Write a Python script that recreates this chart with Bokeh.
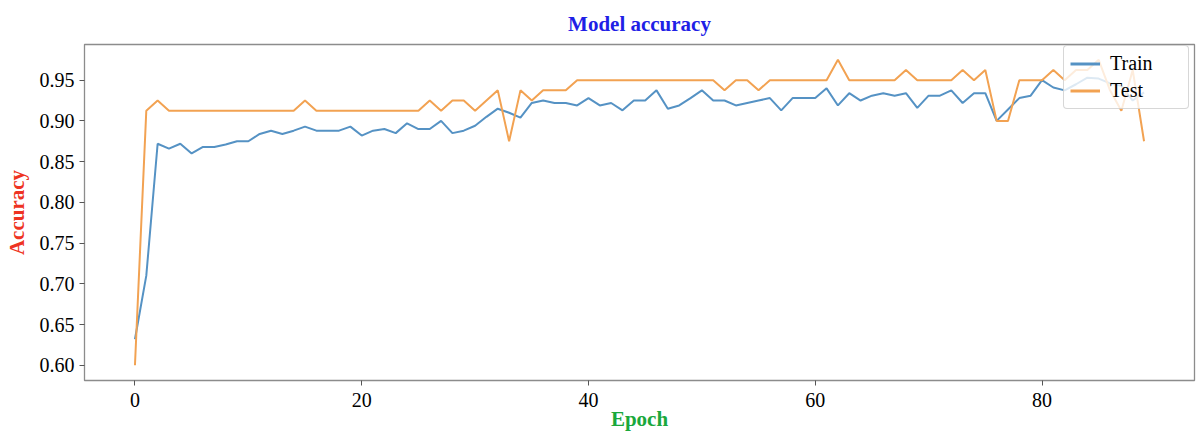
from bokeh.plotting import figure
from bokeh.models import Range1d, FixedTicker, Legend, LegendItem
from bokeh.embed import file_html
from bokeh.resources import INLINE

# Per-epoch accuracy on the training and test sets
epochs = list(range(90))
train_acc = [
    0.632, 0.710, 0.872, 0.866, 0.872, 0.860, 0.868, 0.868, 0.871, 0.875,
    0.875, 0.884, 0.888, 0.884, 0.888, 0.893, 0.888, 0.888, 0.888, 0.893,
    0.882, 0.888, 0.890, 0.885, 0.897, 0.890, 0.890, 0.900, 0.885, 0.888,
    0.894, 0.905, 0.915, 0.910, 0.904, 0.922, 0.925, 0.922, 0.922, 0.919,
    0.928, 0.919, 0.922, 0.913, 0.925, 0.925, 0.9375, 0.915, 0.919, 0.928,
    0.9375, 0.925, 0.925, 0.919, 0.922, 0.925, 0.928, 0.913, 0.928, 0.928,
    0.928, 0.940, 0.919, 0.934, 0.925, 0.931, 0.934, 0.931, 0.934, 0.916,
    0.931, 0.931, 0.9375, 0.922, 0.934, 0.934, 0.900, 0.914, 0.928, 0.931,
    0.950, 0.941, 0.9375, 0.945, 0.953, 0.952, 0.946, 0.943, 0.925, 0.935,
]
test_acc = [
    0.600, 0.9125, 0.925, 0.9125, 0.9125, 0.9125, 0.9125, 0.9125, 0.9125, 0.9125,
    0.9125, 0.9125, 0.9125, 0.9125, 0.9125, 0.925, 0.9125, 0.9125, 0.9125, 0.9125,
    0.9125, 0.9125, 0.9125, 0.9125, 0.9125, 0.9125, 0.925, 0.9125, 0.925, 0.925,
    0.9125, 0.925, 0.9375, 0.875, 0.9375, 0.925, 0.9375, 0.9375, 0.9375, 0.950,
    0.950, 0.950, 0.950, 0.950, 0.950, 0.950, 0.950, 0.950, 0.950, 0.950,
    0.950, 0.950, 0.9375, 0.950, 0.950, 0.9375, 0.950, 0.950, 0.950, 0.950,
    0.950, 0.950, 0.975, 0.950, 0.950, 0.950, 0.950, 0.950, 0.9625, 0.950,
    0.950, 0.950, 0.950, 0.9625, 0.950, 0.9625, 0.900, 0.900, 0.950, 0.950,
    0.950, 0.9625, 0.950, 0.9625, 0.9625, 0.975, 0.9375, 0.9125, 0.9625, 0.875,
]
x_ticks = [0, 20, 40, 60, 80]
y_ticks = [0.60, 0.65, 0.70, 0.75, 0.80, 0.85, 0.90, 0.95]

SERIF = "Liberation Serif"
FRAME = "#8c8c8c"
TRAIN_COLOR = "#5592c4"
TEST_COLOR = "#f2a252"

p = figure(
    width=1196, height=433,
    output_backend="svg", toolbar_location=None,
    x_range=Range1d(-4.45, 93.45), y_range=Range1d(0.5813, 0.9938),
    min_border_left=84, min_border_right=2, min_border_top=44, min_border_bottom=53,
    title="Model accuracy",
)
p.title.align = "center"
p.title.text_font = SERIF
p.title.text_font_size = "21px"
p.title.text_font_style = "bold"
p.title.text_color = "#1f1fe6"
p.title.standoff = 18

p.outline_line_color = FRAME
p.outline_line_width = 1.3
p.xgrid.visible = False
p.ygrid.visible = False
p.background_fill_color = "white"
p.border_fill_color = "white"

for ax in (p.xaxis[0], p.yaxis[0]):
    ax.axis_line_color = FRAME
    ax.major_tick_line_color = "#555555"
    ax.major_tick_out = 5
    ax.major_tick_in = 0
    ax.minor_tick_line_color = None
    ax.major_label_text_font = SERIF
    ax.major_label_text_font_size = "20px"
    ax.major_label_text_color = "black"
    ax.major_label_text_line_height = 1.0
    ax.axis_label_text_font = SERIF
    ax.axis_label_text_font_size = "21px"
    ax.axis_label_text_font_style = "bold"
    ax.axis_label_text_line_height = 1.0

p.xaxis.ticker = FixedTicker(ticks=x_ticks)
p.yaxis.ticker = FixedTicker(ticks=y_ticks)
p.yaxis.major_label_overrides = {t: f"{t:.2f}" for t in y_ticks}
p.xaxis.axis_label = "Epoch"
p.xaxis.axis_label_text_color = "#1aa83c"
p.xaxis.major_label_standoff = 7
p.xaxis.axis_label_standoff = -3
p.yaxis.axis_label = "Accuracy"
p.yaxis.axis_label_text_color = "#ee3322"
p.yaxis.axis_label_standoff = 8

p.line(epochs, train_acc, line_color=TRAIN_COLOR, line_width=2)
p.line(epochs, test_acc, line_color=TEST_COLOR, line_width=2)

# heavier swatches for the legend entries (single-point lines draw nothing in the frame)
key_train = p.line(epochs[:1], train_acc[:1], line_color=TRAIN_COLOR, line_width=3)
key_test = p.line(epochs[:1], test_acc[:1], line_color=TEST_COLOR, line_width=3)

legend = Legend(
    items=[LegendItem(label="Train", renderers=[key_train]),
           LegendItem(label="Test", renderers=[key_test])],
    location=(979, 271),
    margin=0,
    padding=6,
    spacing=4,
    glyph_width=30,
    glyph_height=21,
    label_height=21,
    label_width=72,
    label_standoff=10,
    label_text_font=SERIF,
    label_text_font_size="20px",
    label_text_color="black",
    border_line_color="#b0b0b0",
    background_fill_alpha=0.8,
)
if "border_radius" in Legend.properties():
    legend.border_radius = 4
p.add_layout(legend)

open("out.html", "w").write(file_html(p, INLINE))
